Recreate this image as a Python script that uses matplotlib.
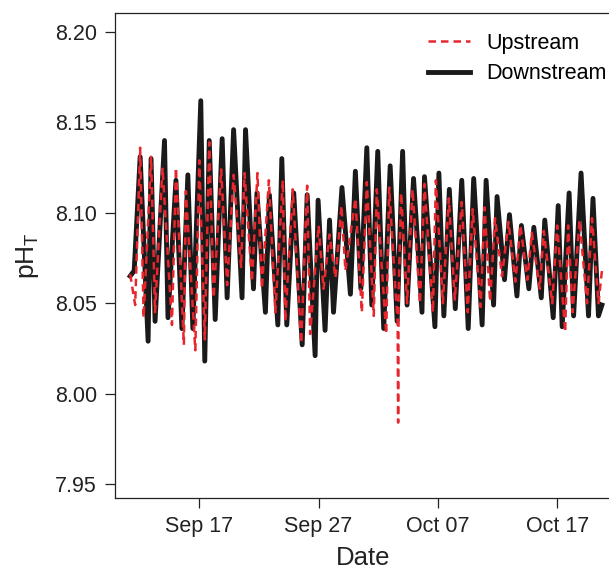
import matplotlib
matplotlib.use("Agg")
import matplotlib.pyplot as plt
import matplotlib.dates as mdates
import pandas as pd

plt.rcParams['font.family'] = ['Liberation Sans', 'DejaVu Sans']
plt.rcParams['mathtext.fontset'] = 'custom'
plt.rcParams['mathtext.rm'] = 'Liberation Sans'
plt.rcParams['mathtext.it'] = 'Liberation Sans:italic'

# downstream (black) - daily highs / lows
down_time = ["09-11 05:00", "09-11 13:00", "09-12 01:00", "09-12 17:00", "09-12 23:00",
             "09-13 07:00", "09-14 02:00", "09-14 09:00", "09-15 01:00", "09-15 13:00",
             "09-16 01:00", "09-16 11:00", "09-17 03:00", "09-17 11:00", "09-17 20:00",
             "09-18 08:00", "09-18 22:00", "09-19 08:00", "09-19 21:00", "09-20 14:00",
             "09-20 21:00", "09-21 13:00", "09-21 20:00", "09-22 13:00", "09-22 21:00",
             "09-23 14:00", "09-23 22:00", "09-24 08:00", "09-24 22:00", "09-25 15:00",
             "09-26 01:00", "09-26 17:00", "09-26 23:00", "09-27 13:00", "09-27 22:00",
             "09-28 06:00", "09-28 23:00", "09-29 16:00", "09-30 02:00", "09-30 13:00",
             "10-01 01:00", "10-01 11:00", "10-01 23:00", "10-02 11:00", "10-03 00:00",
             "10-03 14:00", "10-04 01:00", "10-04 10:00", "10-04 23:00", "10-05 16:00",
             "10-05 21:00", "10-06 18:00", "10-07 02:00", "10-07 12:00", "10-07 23:00",
             "10-08 11:00", "10-09 00:00", "10-09 13:00", "10-10 00:00", "10-10 17:00",
             "10-11 01:00", "10-11 16:00", "10-11 23:00", "10-12 14:00", "10-13 00:00",
             "10-13 15:00", "10-14 00:00", "10-14 15:00", "10-15 01:00", "10-15 16:00",
             "10-15 23:00", "10-16 16:00", "10-17 02:00", "10-17 10:00", "10-18 00:00",
             "10-18 09:00", "10-19 00:00", "10-19 15:00", "10-20 00:00", "10-20 11:00",
             "10-20 18:00"]
down_ph = [8.065, 8.068, 8.131, 8.029, 8.130,
           8.040, 8.140, 8.042, 8.118, 8.036,
           8.121, 8.036, 8.162, 8.018, 8.140,
           8.041, 8.141, 8.053, 8.146, 8.053,
           8.146, 8.058, 8.111, 8.045, 8.110,
           8.038, 8.130, 8.038, 8.111, 8.027,
           8.110, 8.021, 8.107, 8.035, 8.096,
           8.045, 8.114, 8.055, 8.123, 8.058,
           8.136, 8.049, 8.134, 8.036, 8.126,
           8.040, 8.134, 8.049, 8.119, 8.045,
           8.120, 8.037, 8.122, 8.043, 8.113,
           8.047, 8.118, 8.036, 8.119, 8.038,
           8.118, 8.049, 8.109, 8.063, 8.099,
           8.054, 8.093, 8.058, 8.092, 8.053,
           8.096, 8.042, 8.104, 8.037, 8.111,
           8.043, 8.122, 8.043, 8.108, 8.043,
           8.049]

# upstream (red)
up_time = ["09-11 05:00", "09-11 15:00", "09-12 01:00", "09-12 08:00", "09-12 23:00",
           "09-13 07:00", "09-13 22:00", "09-14 17:00", "09-15 01:00", "09-15 17:00",
           "09-15 21:00", "09-16 16:00", "09-17 00:00", "09-17 11:00", "09-17 20:00",
           "09-18 05:00", "09-18 20:00", "09-19 08:00", "09-19 21:00", "09-20 12:00",
           "09-20 19:00", "09-21 10:00", "09-21 21:00", "09-22 06:00", "09-22 20:00",
           "09-23 09:00", "09-24 00:00", "09-24 05:00", "09-24 20:00", "09-25 13:00",
           "09-26 01:00", "09-26 07:00", "09-27 00:00", "09-27 10:00", "09-27 22:00",
           "09-28 10:00", "09-28 22:00", "09-29 06:00", "09-30 02:00", "09-30 15:00",
           "10-01 01:00", "10-01 15:00", "10-01 21:00", "10-02 16:00", "10-02 22:00",
           "10-03 10:00", "10-03 15:00", "10-03 16:00", "10-03 17:00", "10-03 22:00",
           "10-04 10:00", "10-04 21:00", "10-05 12:00", "10-05 21:00", "10-06 14:00",
           "10-06 20:00", "10-07 10:00", "10-07 22:00", "10-08 10:00", "10-09 00:00",
           "10-09 12:00", "10-09 22:00", "10-10 14:00", "10-10 22:00", "10-11 09:00",
           "10-11 19:00", "10-12 09:00", "10-12 22:00", "10-13 12:00", "10-13 22:00",
           "10-14 12:00", "10-14 21:00", "10-15 13:00", "10-15 21:00", "10-16 14:00",
           "10-17 00:00", "10-17 16:00", "10-17 22:00", "10-18 07:00", "10-18 21:00",
           "10-19 12:00", "10-19 22:00", "10-20 11:00", "10-20 18:00"]
up_ph = [8.066, 8.049, 8.136, 8.042, 8.131,
         8.045, 8.125, 8.038, 8.125, 8.027,
         8.112, 8.024, 8.129, 8.030, 8.139,
         8.053, 8.124, 8.060, 8.121, 8.070,
         8.122, 8.062, 8.122, 8.058, 8.118,
         8.045, 8.118, 8.040, 8.113, 8.028,
         8.115, 8.033, 8.093, 8.058, 8.088,
         8.064, 8.104, 8.068, 8.108, 8.045,
         8.117, 8.043, 8.113, 8.033, 8.114,
         8.060, 8.040, 7.984, 8.055, 8.111,
         8.050, 8.113, 8.050, 8.116, 8.045,
         8.118, 8.050, 8.108, 8.052, 8.106,
         8.045, 8.102, 8.048, 8.103, 8.051,
         8.097, 8.065, 8.095, 8.062, 8.093,
         8.063, 8.089, 8.058, 8.090, 8.050,
         8.093, 8.034, 8.093, 8.045, 8.096,
         8.050, 8.097, 8.050, 8.068]

year = "2013-"
down_t = pd.to_datetime([year + s for s in down_time])
up_t = pd.to_datetime([year + s for s in up_time])

fig = plt.figure(figsize=(6.09, 5.70), dpi=100)
ax = fig.add_axes([115 / 609, 72 / 570, 497 / 609, 485 / 570])

ax.plot(down_t, down_ph, color='#1a1a1a', lw=3.5, solid_joinstyle='round', label='Downstream')
ax.plot(up_t, up_ph, color='#e8262e', lw=1.8, dashes=(3, 2), label='Upstream')

ax.set_ylim(7.9423, 8.2105)
ax.set_yticks([7.95, 8.00, 8.05, 8.10, 8.15, 8.20])
ax.yaxis.set_major_formatter(matplotlib.ticker.FormatStrFormatter('%.2f'))
ax.set_xlim(pd.Timestamp("2013-09-09 22:25"), pd.Timestamp("2013-10-21 14:15"))
ax.set_xticks(pd.to_datetime(["2013-09-17", "2013-09-27", "2013-10-07", "2013-10-17"]))
ax.xaxis.set_major_formatter(mdates.DateFormatter('%b %d'))

for s in ['left', 'top', 'bottom', 'right']:
    ax.spines[s].set_linewidth(0.9)
    ax.spines[s].set_color('#222222')
ax.tick_params(direction='out', length=7, width=0.9, colors='#222222', labelsize=15.5)
ax.tick_params(axis='x', pad=6)
ax.tick_params(axis='y', pad=6)

ax.set_xlabel('Date', fontsize=18.5, color='#222222', labelpad=6.5)
ax.set_ylabel(r'pH$_\mathrm{T}$', fontsize=19, color='#222222', labelpad=10)

h, l = ax.get_legend_handles_labels()
fig.legend(h[::-1], l[::-1], loc='upper left', bbox_to_anchor=(428 / 609, 1 - 33 / 570),
           frameon=False, fontsize=15.5, borderpad=0, borderaxespad=0,
           handlelength=1.95, handletextpad=0.75, labelspacing=0.42)

plt.savefig('out.png', dpi=100)
